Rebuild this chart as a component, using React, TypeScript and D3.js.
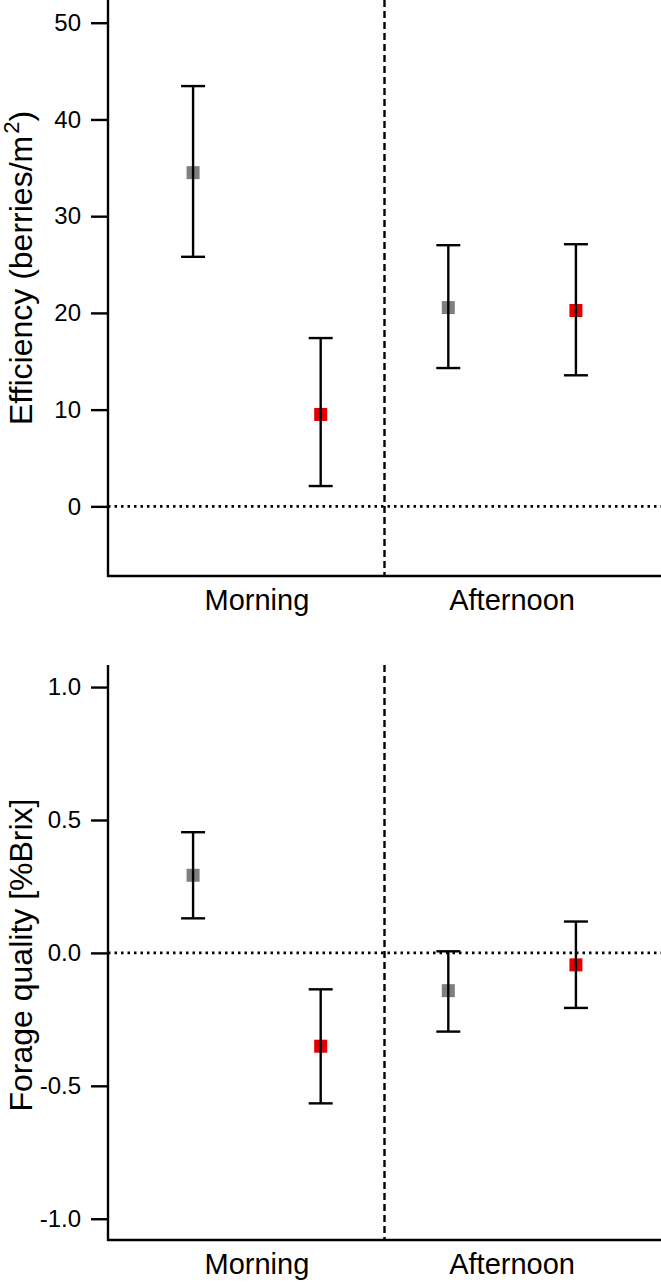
import { useEffect, useRef } from 'react';
import * as d3 from 'd3';

// order: Morning gray, Morning red, Afternoon gray, Afternoon red
const categories = ['Morning', 'Afternoon'];
const pointColors = ['#7f7f7f', '#e30000', '#7f7f7f', '#e30000'];

const effMean = [34.5, 9.5, 20.55, 20.25];
const effLow  = [25.8, 2.1, 14.3, 13.55];
const effHigh = [43.45, 17.4, 27.0, 27.1];
const effTicks = [0, 10, 20, 30, 40, 50];
const effTickLabels = ['0', '10', '20', '30', '40', '50'];

const brixMean = [0.292, -0.351, -0.142, -0.045];
const brixLow  = [0.130, -0.566, -0.296, -0.207];
const brixHigh = [0.454, -0.137, 0.006, 0.118];
const brixTicks = [-1, -0.5, 0, 0.5, 1];
const brixTickLabels = ['-1.0', '-0.5', '0.0', '0.5', '1.0'];

const W = 661;
const H = 1282;
const FONT = '"Liberation Sans", Arial, sans-serif';
const LW = 2.4;

interface Panel {
  mean: number[]; low: number[]; high: number[];
  ticks: number[]; tickLabels: string[];
  domain: [number, number];
  top: number; bottom: number;
  titleY: number;
  title: (t: d3.Selection<SVGTextElement, unknown, null, undefined>) => void;
}

export default function App() {
  const svgRef = useRef<SVGSVGElement>(null);

  useEffect(() => {
    if (!svgRef.current) return;
    const svg = d3.select(svgRef.current);
    svg.selectAll('*').remove();

    const left = 108;
    const x = d3.scaleLinear().domain([1 / 3, 4 + 2 / 3]).range([left, W]);

    const panels: Panel[] = [
      {
        mean: effMean, low: effLow, high: effHigh,
        ticks: effTicks, tickLabels: effTickLabels,
        domain: [-7.2, 52.35], top: 0, bottom: 576, titleY: 268,
        title: t => {
          t.append('tspan').text('Efficiency (berries/m');
          t.append('tspan').attr('font-size', 22).attr('dy', -13).attr('dx', 2).text('2');
          t.append('tspan').attr('dy', 13).text(')');
        },
      },
      {
        mean: brixMean, low: brixLow, high: brixHigh,
        ticks: brixTicks, tickLabels: brixTickLabels,
        domain: [-1.08, 1.083], top: 665, bottom: 1240, titleY: 955,
        title: t => { t.text('Forage quality [%Brix]'); },
      },
    ];

    panels.forEach(p => {
      const y = d3.scaleLinear().domain(p.domain).range([p.bottom, p.top]);
      const g = svg.append('g');

      // y axis
      g.append('g')
        .attr('transform', `translate(${left},0)`)
        .call(d3.axisLeft(y).tickValues(p.ticks).tickSize(17).tickPadding(10)
          .tickFormat((_, i) => p.tickLabels[i]))
        .call(a => a.select('.domain').remove())
        .call(a => a.selectAll('line').attr('stroke', '#000').attr('stroke-width', LW))
        .call(a => a.selectAll('text')
          .attr('fill', '#000').attr('font-size', 24).attr('font-family', FONT));

      g.append('line')
        .attr('x1', left).attr('x2', left)
        .attr('y1', p.top).attr('y2', p.bottom + 1)
        .attr('stroke', '#000').attr('stroke-width', LW);

      // x axis line
      g.append('line')
        .attr('x1', left - 1).attr('x2', W)
        .attr('y1', p.bottom).attr('y2', p.bottom)
        .attr('stroke', '#000').attr('stroke-width', LW);

      // reference lines
      g.append('line')
        .attr('x1', left).attr('x2', W)
        .attr('y1', y(0)).attr('y2', y(0))
        .attr('stroke', '#000').attr('stroke-width', 2.6)
        .attr('stroke-dasharray', '2.5,4');

      g.append('line')
        .attr('x1', x(2.5)).attr('x2', x(2.5))
        .attr('y1', p.top).attr('y2', p.bottom)
        .attr('stroke', '#000').attr('stroke-width', LW)
        .attr('stroke-dasharray', '7,4');

      // category labels
      g.selectAll('.cat')
        .data(categories)
        .enter().append('text')
        .attr('x', (_, i) => x(1.5 + 2 * i))
        .attr('y', p.bottom + 34)
        .attr('text-anchor', 'middle')
        .attr('font-size', 29).attr('font-family', FONT)
        .text(d => d);

      // axis title
      const t = g.append('text')
        .attr('transform', `translate(32,${p.titleY}) rotate(-90)`)
        .attr('text-anchor', 'middle')
        .attr('font-size', 32).attr('font-family', FONT);
      p.title(t);

      // markers
      const idx = d3.range(p.mean.length);
      const s = 13;
      g.selectAll('.pt')
        .data(idx)
        .enter().append('rect')
        .attr('x', i => x(i + 1) - s / 2)
        .attr('y', i => y(p.mean[i]) - s / 2)
        .attr('width', s).attr('height', s)
        .attr('fill', i => pointColors[i]);

      // error bars
      const cap = 12;
      const eb = g.selectAll('.eb').data(idx).enter().append('g')
        .attr('stroke', '#000').attr('stroke-width', LW);
      eb.append('line')
        .attr('x1', i => x(i + 1)).attr('x2', i => x(i + 1))
        .attr('y1', i => y(p.low[i])).attr('y2', i => y(p.high[i]));
      eb.append('line')
        .attr('x1', i => x(i + 1) - cap).attr('x2', i => x(i + 1) + cap)
        .attr('y1', i => y(p.low[i])).attr('y2', i => y(p.low[i]));
      eb.append('line')
        .attr('x1', i => x(i + 1) - cap).attr('x2', i => x(i + 1) + cap)
        .attr('y1', i => y(p.high[i])).attr('y2', i => y(p.high[i]));
    });
  }, []);

  return (
    <div style={{ position: 'absolute', left: 0, top: 0, width: W, height: H, background: '#fff' }}>
      <svg ref={svgRef} width={W} height={H} style={{ display: 'block' }} />
    </div>
  );
}
